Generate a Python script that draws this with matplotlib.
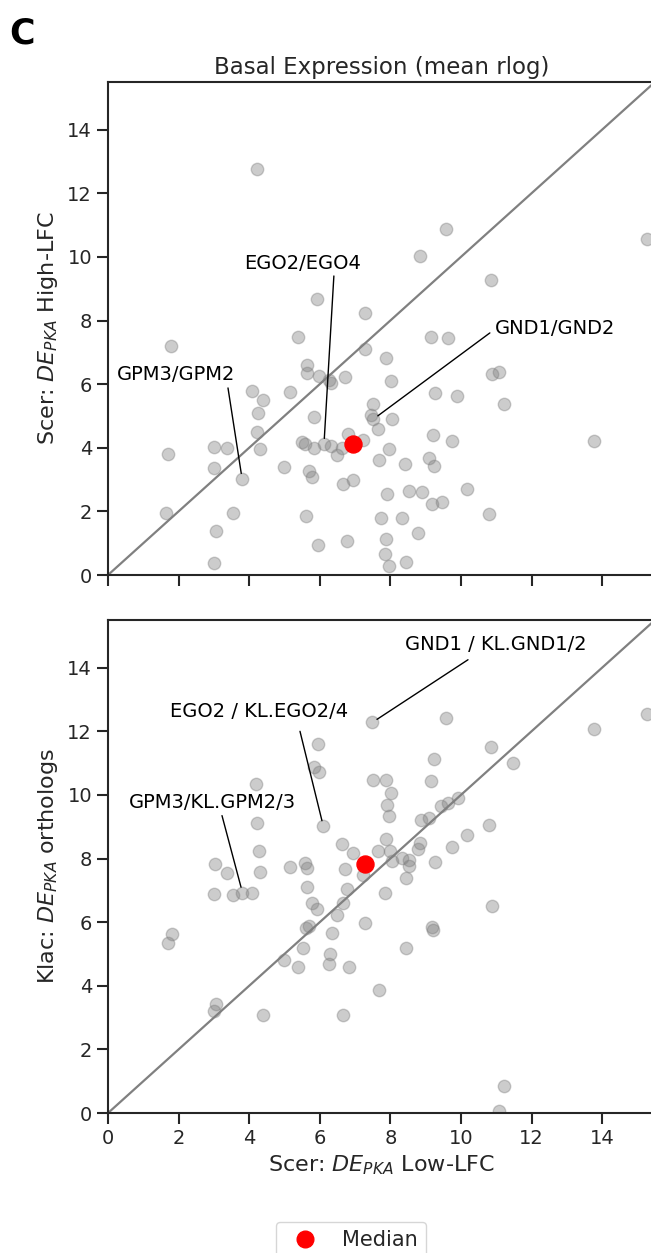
import numpy as np
import matplotlib
matplotlib.use("Agg")
from matplotlib import pyplot as plt
from matplotlib.lines import Line2D

# top panel: Scer low-LFC (x) vs Scer high-LFC (y), mean rlog
top_x = [4.21, 5.91, 7.28, 5.39, 1.78, 9.57, 8.84, 15.27, 10.84, 9.15,
         9.64, 7.28, 5.63, 5.63, 5.98, 6.27, 6.31, 6.71, 4.09, 5.16,
         4.40, 4.26, 7.52, 7.44, 7.52, 7.66, 5.84, 4.21, 6.81, 7.23,
         1.71, 3.01, 3.36, 4.31, 5.49, 5.58, 5.84, 6.12, 6.31, 6.50,
         6.62, 7.69, 3.01, 3.80, 4.99, 5.69, 5.79, 6.67, 6.95, 1.63,
         3.55, 3.06, 5.61, 5.96, 6.78, 3.01, 7.87, 8.01, 10.89, 11.08,
         9.26, 9.90, 11.22, 8.04, 7.97, 8.41, 9.22, 9.76, 9.09, 9.24,
         13.77, 7.91, 8.53, 8.89, 10.16, 9.19, 9.45, 7.73, 8.32, 10.80,
         8.77, 7.89, 7.85, 7.97, 8.43]
top_y = [12.77, 8.68, 8.25, 7.49, 7.21, 10.88, 10.04, 10.56, 9.26, 7.49,
         7.44, 7.10, 6.60, 6.34, 6.27, 6.13, 6.03, 6.21, 5.79, 5.75,
         5.50, 5.08, 5.38, 5.03, 4.90, 4.58, 4.96, 4.51, 4.43, 4.25,
         3.81, 4.02, 3.98, 3.96, 4.17, 4.12, 3.98, 4.12, 4.04, 3.77,
         3.98, 3.62, 3.35, 3.02, 3.41, 3.28, 3.09, 2.86, 2.99, 1.94,
         1.96, 1.39, 1.87, 0.94, 1.08, 0.37, 6.81, 6.10, 6.31, 6.39,
         5.73, 5.63, 5.39, 4.91, 3.95, 3.49, 4.40, 4.22, 3.69, 3.44,
         4.21, 2.54, 2.64, 2.60, 2.70, 2.23, 2.31, 1.78, 1.78, 1.92,
         1.33, 1.12, 0.65, 0.29, 0.42]
top_median = (6.95, 4.12)

# bottom panel: Scer low-LFC (x) vs Klac orthologs (y)
bot_x = [7.49, 5.96, 5.84, 5.98, 7.50, 4.19, 4.21, 6.10, 6.62, 6.95,
         4.28, 3.03, 3.36, 4.31, 5.16, 5.58, 5.65, 6.71, 7.23, 3.01,
         3.53, 3.81, 4.09, 5.65, 6.78, 5.77, 5.91, 6.67, 6.50, 7.28,
         5.60, 5.70, 6.34, 5.52, 4.99, 5.39, 6.29, 6.26, 6.83, 7.69,
         1.80, 1.71, 3.06, 3.01, 4.40, 6.65, 9.57, 15.28, 13.77, 10.84,
         11.48, 9.24, 7.89, 9.14, 8.01, 7.91, 7.96, 9.43, 9.64, 9.91,
         8.86, 9.09, 10.80, 10.16, 7.87, 7.66, 7.99, 8.84, 8.79, 8.04,
         8.32, 8.53, 8.53, 9.75, 9.26, 8.43, 7.85, 10.89, 9.19, 9.22,
         8.43, 11.22, 11.08]
bot_y = [12.28, 11.60, 10.87, 10.71, 10.47, 10.33, 9.12, 9.02, 8.46, 8.17,
         8.23, 7.84, 7.55, 7.57, 7.73, 7.86, 7.71, 7.68, 7.47, 6.90,
         6.86, 6.93, 6.93, 7.12, 7.03, 6.61, 6.42, 6.61, 6.24, 5.97,
         5.83, 5.88, 5.67, 5.20, 4.80, 4.59, 4.99, 4.70, 4.59, 3.88,
         5.62, 5.36, 3.44, 3.21, 3.07, 3.07, 12.42, 12.55, 12.06, 11.52,
         11.00, 11.13, 10.48, 10.43, 10.07, 9.69, 9.33, 9.64, 9.74, 9.90,
         9.22, 9.28, 9.04, 8.75, 8.62, 8.25, 8.25, 8.48, 8.31, 7.92,
         8.03, 7.96, 7.78, 8.36, 7.89, 7.40, 6.93, 6.51, 5.85, 5.74,
         5.20, 0.85, 0.07]
bot_median = (7.28, 7.82)

# labelled genes: (label, index of point)
top_labels = ["EGO2/EGO4", "GND1/GND2", "GPM3/GPM2"]
top_idx = [37, 24, 43]
bot_labels = ["GND1 / KL.GND1/2", "EGO2 / KL.EGO2/4", "GPM3/KL.GPM2/3"]
bot_idx = [0, 7, 21]

# where label text and its leader line start (data coords)
top_text_pos = [(5.52, 9.78), (12.66, 7.74), (1.93, 6.29)]
top_line_start = [(6.40, 9.40), (10.82, 7.61), (3.40, 5.88)]
bot_text_pos = [(10.99, 14.72), (4.28, 12.62), (2.97, 9.76)]
bot_line_start = [(10.20, 14.25), (5.44, 12.00), (3.23, 9.35)]

dark = "#262626"
plt.rcParams.update({
    "font.family": "DejaVu Sans",
    "text.color": dark,
    "axes.labelcolor": dark,
    "axes.edgecolor": dark,
    "axes.linewidth": 1.5,
    "xtick.color": dark,
    "ytick.color": dark,
    "xtick.major.size": 8,
    "ytick.major.size": 8,
    "xtick.major.width": 1.5,
    "ytick.major.width": 1.5,
    "xtick.labelsize": 14,
    "ytick.labelsize": 14,
    "axes.labelsize": 16,
})

fig = plt.figure(figsize=(6.51, 12.53), dpi=100)
ax1 = fig.add_axes([0.1659, 0.5411, 0.8403, 0.3935])
ax2 = fig.add_axes([0.1659, 0.1117, 0.8403, 0.3935])


def panel(ax, xs, ys, med, labels, idx, tpos, lstart):
    ax.axline((0, 0), slope=1, color="gray", lw=1.6, zorder=1)
    ax.scatter(xs, ys, s=80, color="gray", alpha=0.4, linewidths=1, zorder=2)
    ax.scatter([med[0]], [med[1]], s=150, color="red", zorder=4)
    for lab, i, tp, ls in zip(labels, idx, tpos, lstart):
        ax.text(tp[0], tp[1], lab, ha="center", va="center", fontsize=14, color="black")
        ax.annotate("", xy=(xs[i], ys[i]), xytext=ls,
                    arrowprops=dict(arrowstyle="-", color="black", lw=1,
                                    shrinkA=0, shrinkB=4))
    ax.set_xlim(0, 15.5)
    ax.set_ylim(0, 15.5)
    ax.set_xticks(np.arange(0, 15, 2))
    ax.set_yticks(np.arange(0, 15, 2))
    ax.spines["right"].set_visible(False)


panel(ax1, top_x, top_y, top_median, top_labels, top_idx, top_text_pos, top_line_start)
panel(ax2, bot_x, bot_y, bot_median, bot_labels, bot_idx, bot_text_pos, bot_line_start)

ax1.tick_params(labelbottom=False)
ax1.set_title("Basal Expression (mean rlog)", fontsize=16.5, pad=6)
ax1.set_ylabel(r"Scer: $DE_{PKA}$ High-LFC", labelpad=5)
ax2.set_ylabel(r"Klac: $DE_{PKA}$ orthologs", labelpad=5)
ax2.set_xlabel(r"Scer: $DE_{PKA}$ Low-LFC", labelpad=4)

fig.text(0.014, 0.965, "C", fontsize=25, fontweight="bold", color="black")

med_handle = Line2D([], [], marker="o", color="red", linestyle="", markersize=12)
fig.legend(handles=[med_handle], labels=["Median"], loc="upper center",
           bbox_to_anchor=(0.539, 0.0247), borderaxespad=0, fontsize=15)

fig.savefig("out.png", dpi=100)
